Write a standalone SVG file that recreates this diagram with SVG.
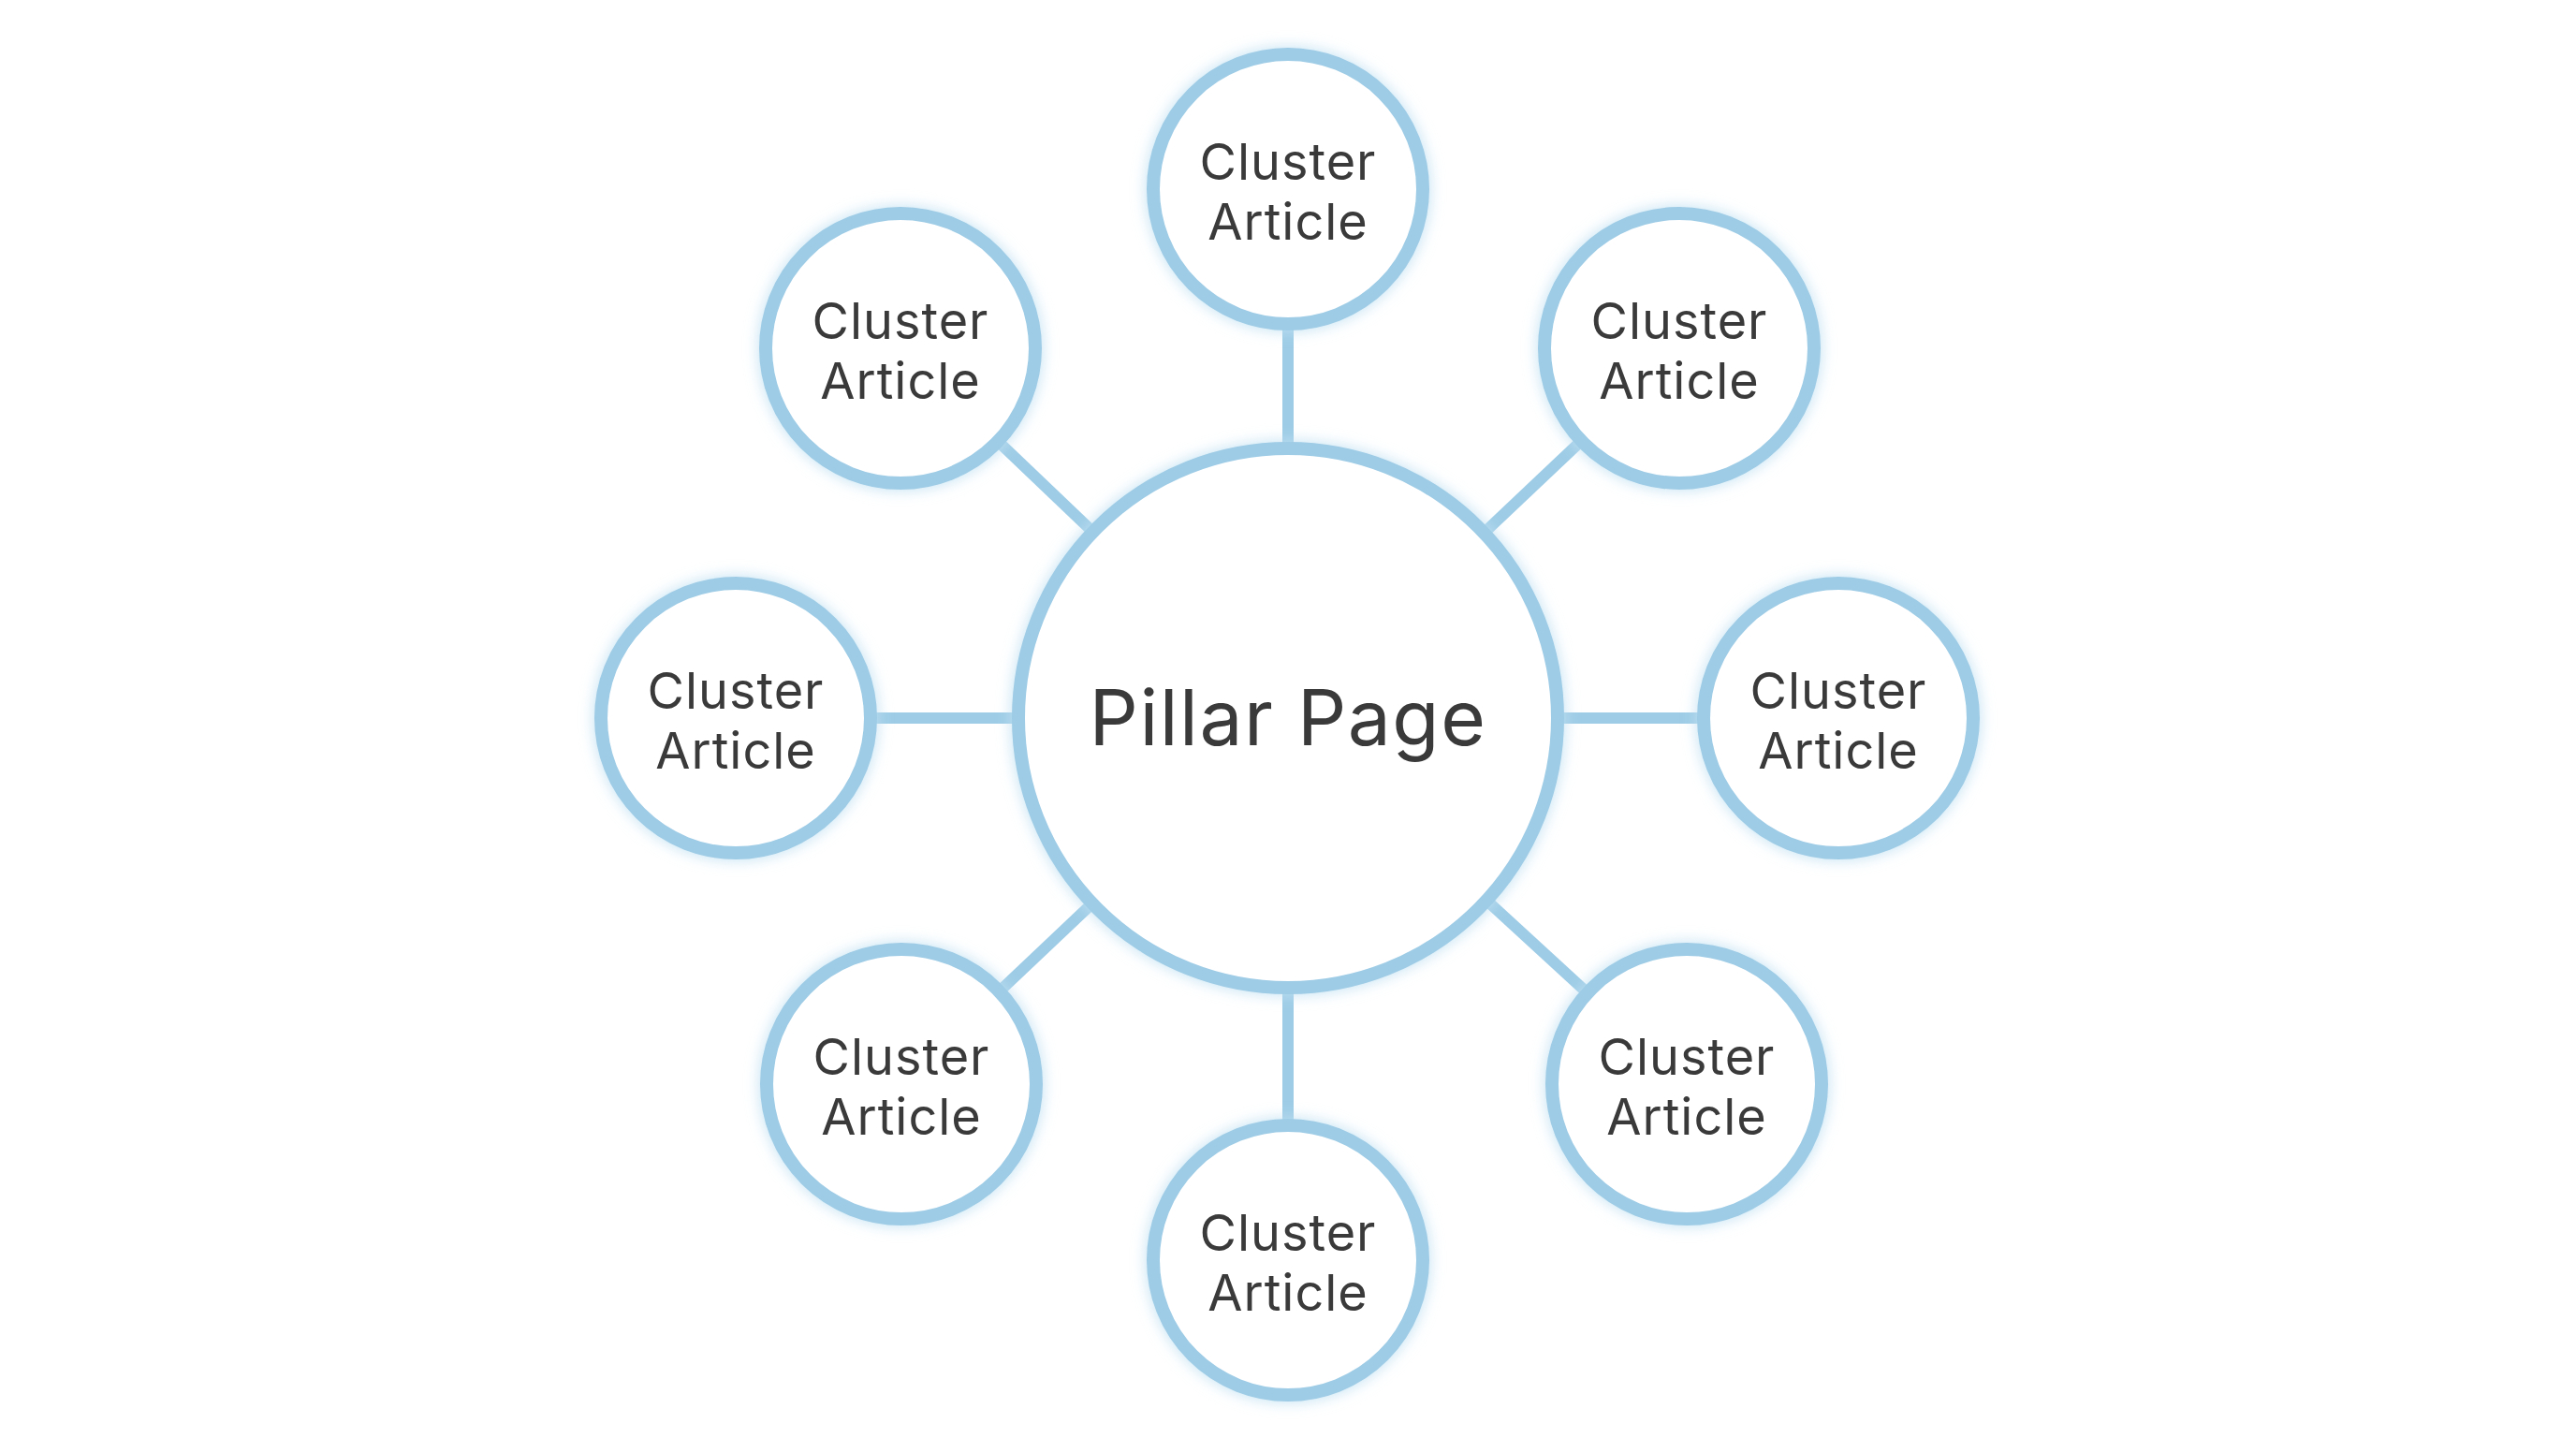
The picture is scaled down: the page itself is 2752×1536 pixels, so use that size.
<svg xmlns="http://www.w3.org/2000/svg" width="2752" height="1536" viewBox="0 0 2752 1536">
<defs>
<filter id="glow" x="-30%" y="-30%" width="160%" height="160%">
<feGaussianBlur in="SourceAlpha" stdDeviation="10"/>
<feFlood flood-color="#bfe0f2"/>
<feComposite operator="in" in2="SourceAlpha"/>
<feGaussianBlur stdDeviation="8"/>
<feMerge><feMergeNode/><feMergeNode in="SourceGraphic"/></feMerge>
</filter>
<style>
.n{fill:#fff;stroke:#9ecce6;stroke-width:14;filter:url(#glow)}
.c{stroke:#9ecce6;stroke-width:12}
.t{font-family:Inter,"Open Sans",sans-serif;font-size:54px;letter-spacing:1px;fill:#3a3a3a;text-anchor:middle}
.p{font-family:Inter,"Open Sans",sans-serif;font-size:82px;letter-spacing:1.5px;fill:#3a3a3a;text-anchor:middle}
</style>
</defs>
<rect width="2752" height="1536" fill="#fff"/>
<g id="connectors">
<line class="c" x1="1376" y1="767" x2="1376" y2="202"/>
<line class="c" x1="1376" y1="767" x2="962" y2="372"/>
<line class="c" x1="1376" y1="767" x2="1794" y2="372"/>
<line class="c" x1="1376" y1="767" x2="786" y2="767"/>
<line class="c" x1="1376" y1="767" x2="1964" y2="767"/>
<line class="c" x1="1376" y1="767" x2="963" y2="1158"/>
<line class="c" x1="1376" y1="767" x2="1802" y2="1158"/>
<line class="c" x1="1376" y1="767" x2="1376" y2="1346"/>
</g>
<g id="pillar"><circle class="n" cx="1376" cy="767" r="288"/><text class="p" x="1376" y="796">Pillar Page</text></g>
<g id="c1"><circle class="n" cx="1376" cy="202" r="144"/><text class="t" x="1376" y="192">Cluster</text><text class="t" x="1376" y="256">Article</text></g>
<g id="c2"><circle class="n" cx="962" cy="372" r="144"/><text class="t" x="962" y="362">Cluster</text><text class="t" x="962" y="426">Article</text></g>
<g id="c3"><circle class="n" cx="1794" cy="372" r="144"/><text class="t" x="1794" y="362">Cluster</text><text class="t" x="1794" y="426">Article</text></g>
<g id="c4"><circle class="n" cx="786" cy="767" r="144"/><text class="t" x="786" y="757">Cluster</text><text class="t" x="786" y="821">Article</text></g>
<g id="c5"><circle class="n" cx="1964" cy="767" r="144"/><text class="t" x="1964" y="757">Cluster</text><text class="t" x="1964" y="821">Article</text></g>
<g id="c6"><circle class="n" cx="963" cy="1158" r="144"/><text class="t" x="963" y="1148">Cluster</text><text class="t" x="963" y="1212">Article</text></g>
<g id="c7"><circle class="n" cx="1802" cy="1158" r="144"/><text class="t" x="1802" y="1148">Cluster</text><text class="t" x="1802" y="1212">Article</text></g>
<g id="c8"><circle class="n" cx="1376" cy="1346" r="144"/><text class="t" x="1376" y="1336">Cluster</text><text class="t" x="1376" y="1400">Article</text></g>
</svg>
